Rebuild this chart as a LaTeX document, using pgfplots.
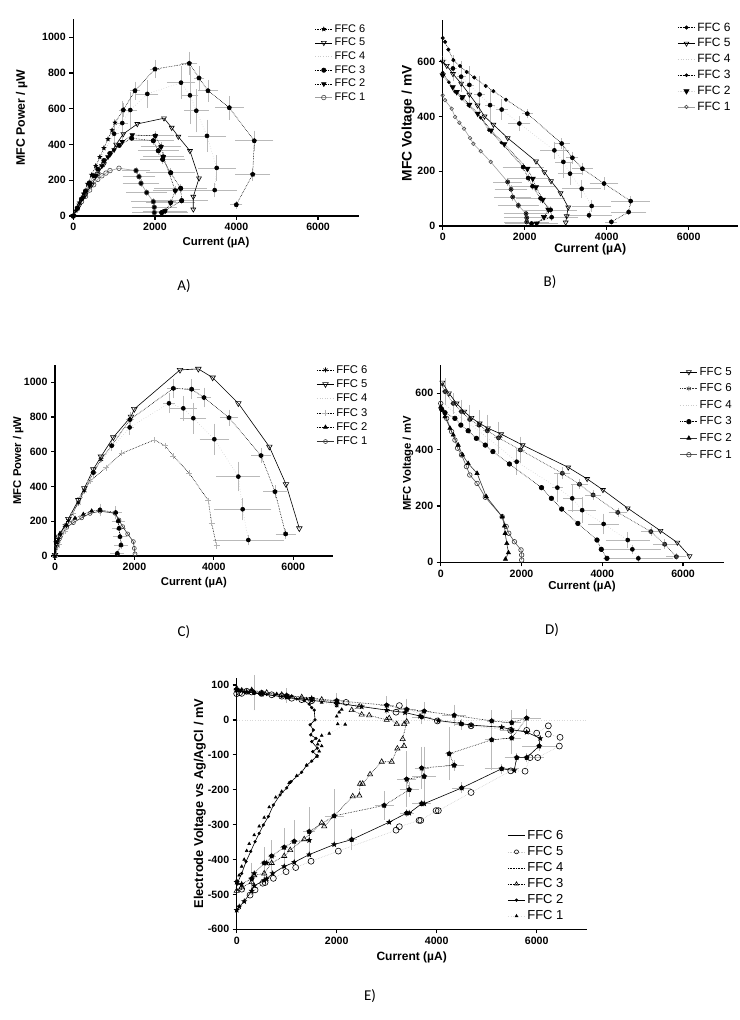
\documentclass[border=0pt]{standalone}
\usepackage{fontspec}
\setmainfont{Liberation Sans}
\newfontfamily\calibri{Carlito}
\usepackage{pgfplots}
\pgfplotsset{compat=1.18}
\newcommand\tlf{\fontsize{10.6}{12}\selectfont\bfseries}
\newcommand\bfs[1]{\fontsize{#1}{#1}\selectfont\bfseries}
\pgfdeclareplotmark{fstar}{%
  \pgfpathmoveto{\pgfpointpolar{90}{\pgfplotmarksize}}%
  \pgfpathlineto{\pgfpointpolar{126}{0.42\pgfplotmarksize}}%
  \pgfpathlineto{\pgfpointpolar{162}{\pgfplotmarksize}}%
  \pgfpathlineto{\pgfpointpolar{198}{0.42\pgfplotmarksize}}%
  \pgfpathlineto{\pgfpointpolar{234}{\pgfplotmarksize}}%
  \pgfpathlineto{\pgfpointpolar{270}{0.42\pgfplotmarksize}}%
  \pgfpathlineto{\pgfpointpolar{306}{\pgfplotmarksize}}%
  \pgfpathlineto{\pgfpointpolar{342}{0.42\pgfplotmarksize}}%
  \pgfpathlineto{\pgfpointpolar{18}{\pgfplotmarksize}}%
  \pgfpathlineto{\pgfpointpolar{54}{0.42\pgfplotmarksize}}%
  \pgfpathclose\pgfusepathqfillstroke}
\pgfplotsset{
  panel/.style={
    scale only axis, anchor=south west, clip=false,
    axis x line*=bottom, axis y line*=left,
    axis line style={line width=1.5pt},
    tick style={line width=1.3pt, black},
    major tick length=4pt, tick align=outside,
    xmin=0, xmax=7000, xtick={0,2000,4000,6000},
    scaled ticks=false,
    xticklabel={\tlf\pgfmathprintnumber[assume math mode=true,1000 sep={}]{\tick}},
    yticklabel={\tlf\pgfmathprintnumber[assume math mode=true,1000 sep={}]{\tick}},
    every axis plot/.append style={line width=0.6pt},
    legend style={draw=none, fill=none, font=\fontsize{11}{13}\selectfont,
      anchor=north west, cells={anchor=west}, row sep=0.5pt},
  },
  eb/.style={forget plot, only marks, mark=none,
    error bars/.cd, x dir=both, x explicit, y dir=both, y explicit,
    error bar style={gray!55, line width=0.6pt, solid},
    error mark options={gray!55, mark size=2pt, line width=0.6pt, solid}},
  s6/.style={black, densely dotted, mark=fstar, mark size=2pt, mark options={solid, fill=black}},
  s5/.style={black, solid, mark=triangle, mark size=2.8pt, mark options={solid, rotate=180, fill=white}},
  s4/.style={gray!40, dotted, mark=none},
  s3/.style={black, densely dotted, mark=*, mark size=2.2pt, mark options={solid}},
  s2/.style={black, densely dotted, mark=triangle*, mark size=2.6pt, mark options={solid, rotate=180}},
  s1/.style={gray!75, solid, mark=o, mark size=2.3pt, mark options={solid, fill=white, gray!60!black}},
}
\begin{document}
\begin{tikzpicture}[x=1pt,y=1pt]
\path[use as bounding box] (0,0) rectangle (739,1020);

% ---------------- A ----------------
\begin{axis}[panel, at={(73.3pt,804pt)}, width=285.6pt, height=196.6pt,
  ymin=0, ymax=1100, ytick={0,200,400,600,800,1000},
  xlabel={\bfs{11.4}Current (µA)}, ylabel={\bfs{12.3}MFC Power / µW},
  every axis y label/.style={at={(axis description cs:-0.181,0.5)}, rotate=90, anchor=center},
  every axis x label/.style={at={(axis description cs:0.5,-0.137)}, anchor=center},
  legend style={at={(axis description cs:0.835,0.995)}}]
\addplot[eb] coordinates {(1225,593)+-(60,30) (1512,701)+-(80,40) (2002,822)+-(80,40) (2843,854)+-(150,55) (3081,772)+-(80,55) (3301,701)+-(200,50) (3824,606)+-(300,55) (4436,421)+-(420,45) (4397,233)+-(380,25) (3995,63)+-(100,10)};
\addplot[eb] coordinates {(1000,460)+-(60,70) (1200,520)+-(80,110) (1397,593)+-(120,90) (1814,683)+-(220,65) (2640,746)+-(300,80) (2860,675)+-(150,150) (3015,589)+-(250,110) (3277,448)+-(420,80) (3515,269)+-(420,60) (3466,145)+-(500,30)};
\addplot[eb] coordinates {(1961,421)+-(450,15) (2083,365)+-(450,15) (2191,317)+-(500,15) (2387,242)+-(550,15) (2632,155)+-(600,15) (2657,86)+-(600,10) (2167,19)+-(600,5)};
\addplot[eb] coordinates {(2010,449)+-(400,15) (2150,388)+-(450,15) (2206,332)+-(450,15) (2500,142)+-(500,15) (2387,74)+-(550,10) (2248,28)+-(500,5)};
\addplot[eb] coordinates {(1537,254)+-(300,10) (1610,220)+-(350,10) (1659,183)+-(400,10) (1799,131)+-(450,10) (1961,80)+-(500,8) (1985,49)+-(500,5) (1985,19)+-(500,5)};
\addplot[s4, forget plot] coordinates {(0,0) (200,100) (400,200) (600,300) (800,380) (1000,460) (1397,593) (1814,683) (2640,746) (2860,675) (3015,589) (3277,448) (3515,269) (3466,145)};
\addplot[s1, forget plot] coordinates {(0,0) (100,40) (200,80) (300,110) (400,145) (500,175) (600,205) (700,225) (800,240) (900,254) (1120,267) (1537,254) (1610,220) (1659,183) (1799,131) (1961,80) (1985,49) (1985,19)};
\addplot[s2, forget plot] coordinates {(0,0) (100,42) (250,105) (400,170) (550,225) (700,280) (850,330) (1000,370) (1200,415) (1446,453) (2010,449) (2150,388) (2206,332) (2500,142) (2387,74) (2248,28)};
\addplot[s3, forget plot] coordinates {(0,0) (100,45) (200,95) (300,140) (400,185) (500,225) (600,262) (750,310) (900,350) (1127,395) (1431,435) (1961,421) (2083,365) (2191,317) (2387,242) (2632,155) (2657,86) (2167,19)};
\addplot[s5, forget plot] coordinates {(0,0) (150,60) (300,120) (450,175) (600,235) (750,290) (900,345) (1050,400) (1225,459) (1569,515) (2223,547) (2412,494) (2574,444) (2860,364) (3081,211) (2941,108) (2941,37)};
\addplot[s6, forget plot] coordinates {(0,0) (60,30) (150,75) (250,125) (350,180) (450,230) (550,280) (650,330) (750,380) (850,430) (950,480) (1022,522) (1225,593) (1512,701) (2002,822) (2843,854) (3081,772) (3301,701) (3824,606) (4436,421) (4397,233) (3995,63)};
\addlegendimage{s6}\addlegendentry{FFC 6}
\addlegendimage{s5}\addlegendentry{FFC 5}
\addlegendimage{s4}\addlegendentry{FFC 4}
\addlegendimage{s3}\addlegendentry{FFC 3}
\addlegendimage{s2}\addlegendentry{FFC 2}
\addlegendimage{s1}\addlegendentry{FFC 1}
\end{axis}

% ---------------- B ----------------
\begin{axis}[panel, at={(442.7pt,794pt)}, width=295.2pt, height=205.5pt,
  xmax=7200, ymin=0, ymax=750, ytick={0,200,400,600},
  xlabel={\bfs{12.3}Current (µA)}, ylabel={\bfs{13.8}MFC Voltage / mV},
  every axis y label/.style={at={(axis description cs:-0.1175,0.5)}, rotate=90, anchor=center},
  every axis x label/.style={at={(axis description cs:0.5,-0.115)}, anchor=center},
  legend style={at={(axis description cs:0.785,1.01)}, row sep=2pt, font=\fontsize{12}{14}\selectfont}]
\addplot[eb] coordinates {(2065,410)+-(80,10) (2902,301)+-(150,12) (3163,249)+-(100,15) (3407,209)+-(200,15) (3935,155)+-(300,15) (4585,91)+-(420,10) (4536,51)+-(380,5) (4114,15)+-(100,3)};
\addplot[eb] coordinates {(250,575)+-(50,40) (450,545)+-(60,50) (650,515)+-(60,60) (900,480)+-(80,60) (1155,441)+-(80,50) (1439,425)+-(100,30) (1870,374)+-(220,20) (2724,276)+-(300,25) (2943,234)+-(150,50) (3106,191)+-(250,35) (3390,136)+-(420,25) (3634,73)+-(420,15) (3569,39)+-(500,8)};
\addplot[eb] coordinates {(1961,215)+-(450,8) (2083,175)+-(450,8) (2191,145)+-(500,8) (2387,101)+-(550,8) (2632,59)+-(600,6) (2657,32)+-(600,5) (2167,9)+-(600,3)};
\addplot[eb] coordinates {(1585,161)+-(300,8) (1667,134)+-(350,8) (1707,106)+-(400,8) (1845,75)+-(450,6) (2033,45)+-(500,5) (2049,30)+-(500,4) (2049,15)+-(500,3)};
\addplot[s4, forget plot] coordinates {(0,620) (100,605) (250,575) (450,545) (650,515) (900,480) (1155,441) (1439,425) (1870,374) (2724,276) (2943,234) (3106,191) (3390,136) (3634,73) (3569,39)};
\addplot[s1, mark size=1.8pt, forget plot] coordinates {(0,477) (57,459) (220,428) (301,398) (406,377) (520,355) (667,321) (748,300) (927,273) (1171,234) (1585,161) (1667,134) (1707,106) (1845,75) (2033,45) (2049,30) (2049,15)};
\addplot[s2, mark size=3pt, forget plot] coordinates {(0,550) (244,507) (341,489) (488,471) (650,443) (854,410) (1179,349) (1502,299) (2065,209) (2195,173) (2276,142) (2439,96) (2577,60) (2471,33) (2293,9)};
\addplot[s3, mark size=1.5pt, forget plot] coordinates {(0,560) (150,525) (301,490) (463,465) (626,440) (927,395) (1127,350) (1431,304) (1961,215) (2083,175) (2191,145) (2387,101) (2632,59) (2657,32) (2167,9)};
\addplot[s5, forget plot] coordinates {(0,600) (100,585) (250,555) (450,520) (650,480) (850,440) (1020,400) (1236,370) (1585,321) (2276,236) (2480,197) (2642,164) (2875,120) (3063,68) (3024,36) (3000,13)};
\addplot[s6, mark=*, mark size=1.7pt, forget plot] coordinates {(0,686) (57,672) (138,644) (260,605) (423,584) (585,562) (772,542) (1049,511) (1236,492) (1545,461) (2065,410) (2902,301) (3163,249) (3407,209) (3935,155) (4585,91) (4536,51) (4114,15)};
\addlegendimage{s6, mark=*, mark size=1.7pt}\addlegendentry{FFC 6}
\addlegendimage{s5}\addlegendentry{FFC 5}
\addlegendimage{s4}\addlegendentry{FFC 4}
\addlegendimage{s3, mark size=1.5pt}\addlegendentry{FFC 3}
\addlegendimage{s2, mark size=3pt, gray!30, mark options={solid, rotate=180, black}}\addlegendentry{FFC 2}
\addlegendimage{s1, mark size=1.8pt}\addlegendentry{FFC 1}
\end{axis}

% ---------------- C ----------------
\begin{axis}[panel, at={(55pt,464pt)}, width=277.9pt, height=191.1pt,
  ymin=0, ymax=1100, ytick={0,200,400,600,800,1000},
  xlabel={\bfs{11.3}Current (µA)}, ylabel={\bfs{11.3}MFC Power / µW},
  every axis y label/.style={at={(axis description cs:-0.132,0.5)}, rotate=90, anchor=center},
  every axis x label/.style={at={(axis description cs:0.5,-0.141)}, anchor=center},
  legend style={at={(axis description cs:0.93,1.02)}, row sep=1pt, font=\fontsize{11.2}{13}\selectfont}]
\addplot[eb] coordinates {(966,480)+-(30,20) (1427,635)+-(40,20) (1889,785)+-(60,30) (2981,965)+-(100,45) (3442,960)+-(150,45) (3753,912)+-(130,45) (4383,796)+-(180,35) (5189,578)+-(200,30) (5541,370)+-(250,25) (5810,127)+-(200,15)};
\addplot[eb] coordinates {(1880,740)+-(60,30) (2871,879)+-(100,45) (3232,850)+-(290,60) (3484,793)+-(275,77) (4013,672)+-(320,79) (4618,457)+-(500,74) (4727,269)+-(670,53) (4870,92)+-(840,20)};
\addplot[eb] coordinates {(1133,265)+-(60,25) (1528,250)+-(100,25) (1595,201)+-(120,10) (1612,159)+-(120,10) (1637,111)+-(130,10) (1662,63)+-(130,10) (1570,15)+-(130,5)};
\addplot[s4, forget plot] coordinates {(0,0) (100,85) (300,185) (500,280) (700,365) (900,450) (1100,525) (1400,615) (1880,740) (2871,879) (3232,850) (3484,793) (4013,672) (4618,457) (4727,269) (4870,92)};
\addplot[black!80, solid, mark=o, mark size=2pt, mark options={solid, gray!50!black, fill=white}, forget plot] coordinates {(0,0) (42,60) (126,110) (294,165) (462,192) (672,220) (882,245) (1133,258) (1511,246) (1612,207) (1704,169) (1830,127) (1973,83) (1998,44) (2015,12)};
\addplot[black, densely dotted, mark=triangle*, mark size=2.2pt, mark options={solid}, forget plot] coordinates {(0,0) (42,73) (126,130) (294,178) (504,217) (714,240) (924,259) (1133,265) (1528,250) (1595,201) (1612,159) (1637,111) (1662,63) (1570,15)};
\addplot[black, densely dotted, mark=+, mark size=3pt, mark options={solid, gray!60}, forget plot] coordinates {(0,0) (100,65) (250,145) (450,245) (630,335) (882,430) (1285,509) (1679,591) (2502,668) (2771,635) (2981,576) (3384,476) (3862,319) (3946,188) (4072,59)};
\addplot[s6, mark=asterisk, mark size=2.5pt, mark options={solid, black}, forget plot] coordinates {(0,0) (84,95) (250,175) (336,205) (588,305) (739,375) (966,480) (1159,555) (1427,635) (1889,785) (2981,965) (3442,960) (3753,912) (4383,796) (5189,578) (5541,370) (5810,127)};
\addplot[s5, mark size=3.2pt, forget plot] coordinates {(0,6) (42,73) (84,111) (336,213) (588,322) (739,390) (966,499) (1159,572) (1469,683) (1914,802) (1998,846) (3149,1071) (3610,1077) (3971,1027) (4618,879) (5399,629) (5818,413) (6154,159)};
\addlegendimage{s6, mark=asterisk, mark size=2.5pt, mark options={solid, black}}\addlegendentry{FFC 6}
\addlegendimage{s5, mark size=3.2pt}\addlegendentry{FFC 5}
\addlegendimage{s4}\addlegendentry{FFC 4}
\addlegendimage{black, densely dotted, mark=+, mark size=3pt, mark options={solid, gray!60}}\addlegendentry{FFC 3}
\addlegendimage{black, densely dotted, mark=triangle*, mark size=2.2pt, mark options={solid}}\addlegendentry{FFC 2}
\addlegendimage{black!80, solid, mark=o, mark size=2pt, mark options={solid, gray!50!black, fill=white}}\addlegendentry{FFC 1}
\end{axis}

% ---------------- D ----------------
\begin{axis}[panel, at={(440.7pt,457.7pt)}, width=282.8pt, height=197.2pt,
  ymin=0, ymax=700, ytick={0,200,400,600},
  xlabel={\bfs{11.5}Current (µA)}, ylabel={\bfs{11.3}MFC Voltage / mV},
  every axis y label/.style={at={(axis description cs:-0.116,0.5)}, rotate=90, anchor=center},
  every axis x label/.style={at={(axis description cs:0.5,-0.125)}, anchor=center},
  legend style={at={(axis description cs:0.835,1.01)}, row sep=3pt, font=\fontsize{11.5}{13}\selectfont}]
\addplot[eb] coordinates {(106,606)+-(20,40) (311,564)+-(30,30) (515,535)+-(30,35) (720,507)+-(30,45) (949,487)+-(40,45) (1153,467)+-(50,50) (1432,442)+-(60,50) (1971,399)+-(60,40) (3010,316)+-(150,15) (3436,277)+-(150,10) (3771,239)+-(150,10) (4384,177)+-(180,10) (5203,109)+-(200,10) (5546,64)+-(230,10) (5832,20)+-(200,5)};
\addplot[eb] coordinates {(1881,357)+-(40,40) (2888,265)+-(80,43) (3256,227)+-(180,41) (3501,185)+-(290,38) (4033,136)+-(330,30) (4630,79)+-(500,20) (4744,46)+-(650,10) (4892,14)+-(820,5)};
\addplot[s4, forget plot] coordinates {(0,575) (150,555) (400,525) (700,492) (1000,460) (1400,415) (1881,357) (2888,265) (3256,227) (3501,185) (4033,136) (4630,79) (4744,46) (4892,14)};
\addplot[gray!70!black, solid, mark=o, mark size=2.3pt, mark options={solid, fill=white, black!80}, forget plot] coordinates {(0,564) (147,511) (270,464) (352,434) (417,405) (515,381) (638,340) (720,310) (900,280) (1104,231) (1521,162) (1620,127) (1685,103) (1824,73) (1988,44) (2004,26) (2004,8)};
\addplot[black!80, solid, mark=triangle*, mark size=2.4pt, mark options={solid, black}, forget plot] coordinates {(0,552) (106,517) (229,476) (311,452) (434,416) (540,381) (679,351) (900,316) (1129,233) (1521,162) (1579,129) (1595,103) (1636,67) (1677,34) (1603,11)};
\addplot[s3, mark size=2.3pt, forget plot] coordinates {(25,543) (106,531) (352,511) (499,487) (679,467) (883,440) (1104,416) (1292,393) (1701,349) (2495,265) (2740,227) (2994,189) (3395,138) (3869,79) (3975,46) (4115,14)};
\addplot[black!80, densely dotted, mark=asterisk, mark size=2.5pt, mark options={solid, gray!60!black}, forget plot] coordinates {(41,629) (106,606) (311,564) (515,535) (720,507) (949,487) (1153,467) (1432,442) (1971,399) (3010,316) (3436,277) (3771,239) (4384,177) (5203,109) (5546,64) (5832,20)};
\addplot[s5, forget plot] coordinates {(41,638) (205,600) (393,564) (581,535) (761,513) (965,493) (1170,476) (1497,455) (2029,416) (3157,337) (3624,296) (4016,257) (4630,192) (5440,112) (5857,70) (6160,22)};
\addlegendimage{s5}\addlegendentry{FFC 5}
\addlegendimage{black!80, densely dotted, mark=asterisk, mark size=2.5pt, mark options={solid, gray!60!black}}\addlegendentry{FFC 6}
\addlegendimage{s4}\addlegendentry{FFC 4}
\addlegendimage{s3, mark size=2.3pt}\addlegendentry{FFC 3}
\addlegendimage{black!80, solid, mark=triangle*, mark size=2.4pt, mark options={solid, black}}\addlegendentry{FFC 2}
\addlegendimage{gray!70!black, solid, mark=o, mark size=2.3pt, mark options={solid, fill=white, black!80}}\addlegendentry{FFC 1}
\end{axis}

% ---------------- E ----------------
\begin{axis}[panel, at={(236.7pt,90.7pt)}, width=350pt, height=251.3pt,
  ymin=-600, ymax=120, ytick={-600,-500,-400,-300,-200,-100,0,100},
  xlabel={\bfs{12}Current (µA)}, ylabel={\bfs{12.8}Electrode Voltage vs Ag/AgCl / mV},
  every axis y label/.style={at={(axis description cs:-0.105,0.5)}, rotate=90, anchor=center},
  every axis x label/.style={at={(axis description cs:0.5,-0.113)}, anchor=center},
  legend style={at={(axis description cs:0.765,0.41)}, font=\fontsize{13}{15}\selectfont, row sep=1.5pt}]
\addplot[gray!30, dotted, forget plot] coordinates {(0,0) (7000,0)};
\addplot[eb] coordinates {(300,-455)+-(30,40) (550,-410)+-(40,40) (700,-390)+-(40,40) (950,-365)+-(40,50) (1150,-348)+-(40,55) (1450,-320)+-(80,65) (1950,-275)+-(150,70) (2950,-245)+-(150,35) (3450,-200)+-(150,15) (3400,-170)+-(150,75) (3750,-162)+-(200,80) (3700,-138)+-(100,55) (4350,-130)+-(150,10) (4250,-97)+-(50,70) (5100,-57)+-(100,80) (5500,-52)+-(150,40) (5800,5)+-(250,20) (5500,-8)+-(150,30) (5100,-3)+-(50,25) (4350,13)+-(200,25) (3750,25)+-(100,20) (3400,30)+-(150,25) (3000,42)+-(100,20) (2000,55)+-(100,15) (1000,70)+-(60,15) (350,78)+-(40,45)};
\addplot[eb] coordinates {(2300,-343)+-(60,25) (3400,-267)+-(100,5) (3700,-240)+-(150,5) (4500,-195)+-(150,10) (5300,-140)+-(300,8) (5600,-108)+-(200,8) (5800,-108)+-(300,8) (6050,-75)+-(300,8) (5500,-30)+-(200,25) (4500,-12)+-(100,10) (3700,8)+-(150,15)};
\addplot[gray!35, dotted, mark=triangle*, mark size=1.6pt, mark options={solid, black}, forget plot] coordinates {(0,90) (100,88) (300,85) (500,80) (800,75) (1100,68) (1400,60) (1700,50) (2000,40) (2100,30) (2050,22) (2000,10) (2020,-12) (2170,-13) (1850,-39) (1700,-45) (1650,-60) (1700,-75) (1620,-70) (1650,-90) (1600,-105) (1400,-130) (1200,-160) (1050,-180) (900,-205) (780,-222) (650,-250) (550,-280) (450,-305) (350,-330) (250,-355) (200,-375) (150,-400) (100,-420) (50,-445) (0,-460)};
\addplot[black, solid, mark=*, mark size=1.3pt, forget plot] coordinates {(0,88) (30,84) (80,82) (150,80) (250,79) (350,77) (450,75) (600,73) (750,70) (900,67) (1050,63) (1200,60) (1350,55) (1450,45) (1500,35) (1550,28) (1567,0) (1467,-14) (1533,-29) (1480,-43) (1587,-53) (1500,-62) (1613,-81) (1520,-91) (1613,-103) (1500,-118) (1400,-130) (1300,-150) (1087,-177) (1000,-195) (867,-215) (733,-244) (633,-277) (533,-301) (450,-325) (367,-349) (280,-377) (187,-406) (100,-440) (13,-468)};
\addplot[black, densely dotted, mark=triangle, mark size=3pt, mark options={solid, fill=white}, forget plot] coordinates {(0,90) (300,85) (600,78) (900,72) (1300,65) (1700,58) (2000,50) (2450,38) (2300,28) (2500,15) (2650,13) (3000,0) (3050,5) (3200,-12) (3350,-12) (3400,-5) (3320,-55) (3347,-75) (3213,-82) (3100,-120) (2900,-120) (2667,-156) (2520,-183) (2467,-183) (2453,-217) (2320,-219) (1750,-305) (1700,-295) (1350,-342) (1070,-373) (950,-390) (700,-410) (550,-440) (350,-445) (300,-465) (100,-480) (0,-490)};
\addplot[black, densely dotted, mark=fstar, mark size=2.4pt, mark options={solid, fill=black}, forget plot] coordinates {(0,-465) (100,-470) (300,-455) (350,-440) (550,-410) (600,-410) (700,-390) (950,-365) (1150,-348) (1450,-345) (1450,-320) (1950,-275) (2950,-245) (3450,-200) (3400,-170) (3750,-162) (3700,-138) (4350,-130) (4250,-97) (5100,-57) (5500,-52) (5800,5) (5500,-8) (5100,-3) (4350,13) (3750,25) (3400,30) (3000,42) (2000,55) (1500,62) (1000,70) (500,78) (0,88)};
\addplot[gray!40, densely dotted, mark=o, mark size=3pt, mark options={solid, black, fill=none}, forget plot] coordinates {(0,75) (60,78) (100,76) (200,82) (300,80) (500,76) (700,72) (900,68) (1100,62) (1300,58) (1500,55) (2187,50) (3187,22) (3253,41) (4013,-3) (4687,-17) (5480,-30) (5800,-30) (6000,-38) (6233,-17) (6233,-41) (6467,-50) (6453,-75) (6020,-108) (5867,-108) (5767,-147) (5480,-146) (4687,-208) (4033,-260) (3987,-260) (3680,-288) (3647,-288) (3253,-306) (3187,-316) (2033,-376) (1487,-405) (1180,-423) (987,-435) (733,-454) (567,-466) (520,-468) (367,-487) (267,-502) (100,-485) (50,-480)};
\addplot[black, solid, mark=fstar, mark size=2.4pt, mark options={solid, fill=black}, forget plot] coordinates {(0,-545) (50,-535) (150,-520) (300,-490) (350,-475) (550,-460) (600,-455) (720,-440) (950,-420) (1150,-408) (1450,-386) (1950,-357) (2300,-343) (3050,-293) (3400,-267) (3450,-267) (3700,-240) (3750,-240) (4500,-195) (5300,-140) (5550,-145) (5600,-108) (5800,-108) (6050,-75) (6070,-53) (5800,-35) (5500,-28) (5300,-21) (4687,-15) (4480,-10) (4034,-2) (3667,11) (3367,21) (3000,28) (2500,38) (2000,48) (1500,56) (1000,65) (500,74) (200,80) (0,85)};
\addlegendimage{black, solid, mark=none}\addlegendentry{FFC 6}
\addlegendimage{gray!40, densely dotted, mark=o, mark size=2pt, mark options={solid, black}}\addlegendentry{FFC 5}
\addlegendimage{black, densely dotted, mark=none}\addlegendentry{FFC 4}
\addlegendimage{black, densely dotted, mark=triangle, mark size=2.2pt, mark options={solid}}\addlegendentry{FFC 3}
\addlegendimage{black, solid, mark=*, mark size=1.3pt}\addlegendentry{FFC 2}
\addlegendimage{gray!30, dotted, mark=triangle*, mark size=1.6pt, mark options={solid, black}}\addlegendentry{FFC 1}
\end{axis}

\node[font=\calibri\fontsize{15}{18}\selectfont] at (184pt,734pt) {A)};
\node[font=\calibri\fontsize{15}{18}\selectfont] at (550pt,738pt) {B)};
\node[font=\calibri\fontsize{15}{18}\selectfont] at (184pt,388pt) {C)};
\node[font=\calibri\fontsize{15}{18}\selectfont] at (552pt,390pt) {D)};
\node[font=\calibri\fontsize{15}{18}\selectfont] at (370pt,24pt) {E)};
\end{tikzpicture}
\end{document}
